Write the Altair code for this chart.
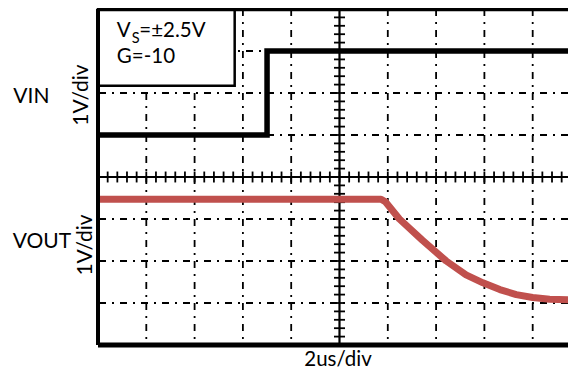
import altair as alt
import pandas as pd

# ---- data (screen divisions: x = time div (2us/div), y = vertical div (1V/div)) ----
grid_x = [1, 2, 3, 4, 6, 7, 8, 9]
grid_y = [1, 2, 3, 5, 6, 7]
center_x = [5]
center_y = [4]
minor_x = [round(k * 0.2, 2) for k in range(0, 50)]
minor_y = [round(k * 0.2, 2) for k in range(0, 41)]

vin_t = [0.0, 3.5, 3.5, 9.9]
vin_v = [5.0, 5.0, 7.0, 7.0]

vout_t = [0.0, 1.5, 3.0, 4.5, 5.86, 5.95, 6.24, 6.72, 7.21, 7.62, 7.97, 8.32, 8.66, 9.0, 9.35, 9.9]
vout_v = [3.47, 3.47, 3.47, 3.47, 3.47, 3.41, 3.0, 2.49, 2.0, 1.67, 1.48, 1.32, 1.20, 1.13, 1.09, 1.07]

X_MAX = 9.731
BLACK = "black"
RED = "#C0504D"
FONT = "Lato"

xs = alt.Scale(domain=[0, X_MAX], nice=False, zero=False)
ys = alt.Scale(domain=[0, 8], nice=False, zero=False)


def X(f):
    return alt.X(f, type="quantitative", scale=xs, axis=None)


def Y(f):
    return alt.Y(f, type="quantitative", scale=ys, axis=None)


DASH = [7, 6, 2, 6]

grid_v = alt.Chart(pd.DataFrame({"x": grid_x})).mark_rule(
    color=BLACK, strokeWidth=1.8, strokeDash=DASH).encode(x=X("x"))
grid_h = alt.Chart(pd.DataFrame({"y": grid_y})).mark_rule(
    color=BLACK, strokeWidth=1.8, strokeDash=DASH).encode(y=Y("y"))

# text box
box = alt.Chart(pd.DataFrame({"x": [0.0], "x2": [2.83], "y": [6.174], "y2": [8.0]})).mark_rect(
    fill="white", stroke=BLACK, strokeWidth=2.5).encode(
    x=X("x"), x2=alt.X2("x2"), y=Y("y"), y2=alt.Y2("y2"))

cen_v = alt.Chart(pd.DataFrame({"x": center_x})).mark_rule(
    color=BLACK, strokeWidth=2.2).encode(x=X("x"))
cen_h = alt.Chart(pd.DataFrame({"y": center_y})).mark_rule(
    color=BLACK, strokeWidth=2.2).encode(y=Y("y"))

tick_on_v = pd.DataFrame({"y": minor_y, "x1": [center_x[0] - 0.114] * len(minor_y),
                          "x2": [center_x[0] + 0.114] * len(minor_y)})
tick_on_h = pd.DataFrame({"x": minor_x, "y1": [center_y[0] - 0.13] * len(minor_x),
                          "y2": [center_y[0] + 0.13] * len(minor_x)})
ticks_v = alt.Chart(tick_on_v).mark_rule(color=BLACK, strokeWidth=1.8).encode(
    x=X("x1"), x2=alt.X2("x2"), y=Y("y"))
ticks_h = alt.Chart(tick_on_h).mark_rule(color=BLACK, strokeWidth=1.8).encode(
    y=Y("y1"), y2=alt.Y2("y2"), x=X("x"))

vin = alt.Chart(pd.DataFrame({"t": vin_t, "v": vin_v, "i": list(range(len(vin_t)))})).mark_line(
    color=BLACK, strokeWidth=5.5, clip=True).encode(x=X("t"), y=Y("v"), order=alt.Order("i:Q"))
vout = alt.Chart(pd.DataFrame({"t": vout_t, "v": vout_v, "i": list(range(len(vout_t)))})).mark_line(
    color=RED, strokeWidth=7, strokeJoin="round", clip=True).encode(
    x=X("t"), y=Y("v"), order=alt.Order("i:Q"))

border_l = alt.Chart(pd.DataFrame({"x": [0]})).mark_rule(color=BLACK, strokeWidth=4).encode(x=X("x"))
border_t = alt.Chart(pd.DataFrame({"y": [8]})).mark_rule(color=BLACK, strokeWidth=4.5).encode(y=Y("y"))
border_b = alt.Chart(pd.DataFrame({"y": [0]})).mark_rule(color=BLACK, strokeWidth=5).encode(y=Y("y"))


def label(text, x, y, size, align="left", angle=0):
    kw = dict(align=align, baseline="alphabetic", font=FONT, fontSize=size, color=BLACK)
    if angle:
        kw["angle"] = angle
    return alt.Chart(pd.DataFrame({"x": [x], "y": [y], "t": [text]})).mark_text(**kw).encode(
        x=X("x"), y=Y("y"), text="t:N")


texts = [
    label("V", 0.39, 7.326, 20.5),
    label("S", 0.70, 7.183, 14.5),
    label("=±2.5V", 0.855, 7.326, 20.5),
    label("G=-10", 0.39, 6.707, 20.5),
    label("VIN", -1.754, 5.762, 21),
    label("VOUT", -1.766, 2.302, 21),
    label("1V/div", -0.201, 5.952, 21, align="center", angle=270),
    label("1V/div", -0.130, 2.381, 21, align="center", angle=270),
    label("2us/div", 4.969, -0.50, 20.5, align="center"),
]

chart = alt.layer(
    grid_v, grid_h, box, cen_v, cen_h, ticks_v, ticks_h, vin, vout,
    border_l, border_t, border_b, *texts
).properties(
    width=470, height=336,
    autosize=alt.AutoSizeParams(type="none"),
    padding={"left": 90, "top": 1, "right": 0, "bottom": 24},
).configure_view(strokeWidth=0)

chart.save("out.html", embed_options={"renderer": "svg", "actions": False})
